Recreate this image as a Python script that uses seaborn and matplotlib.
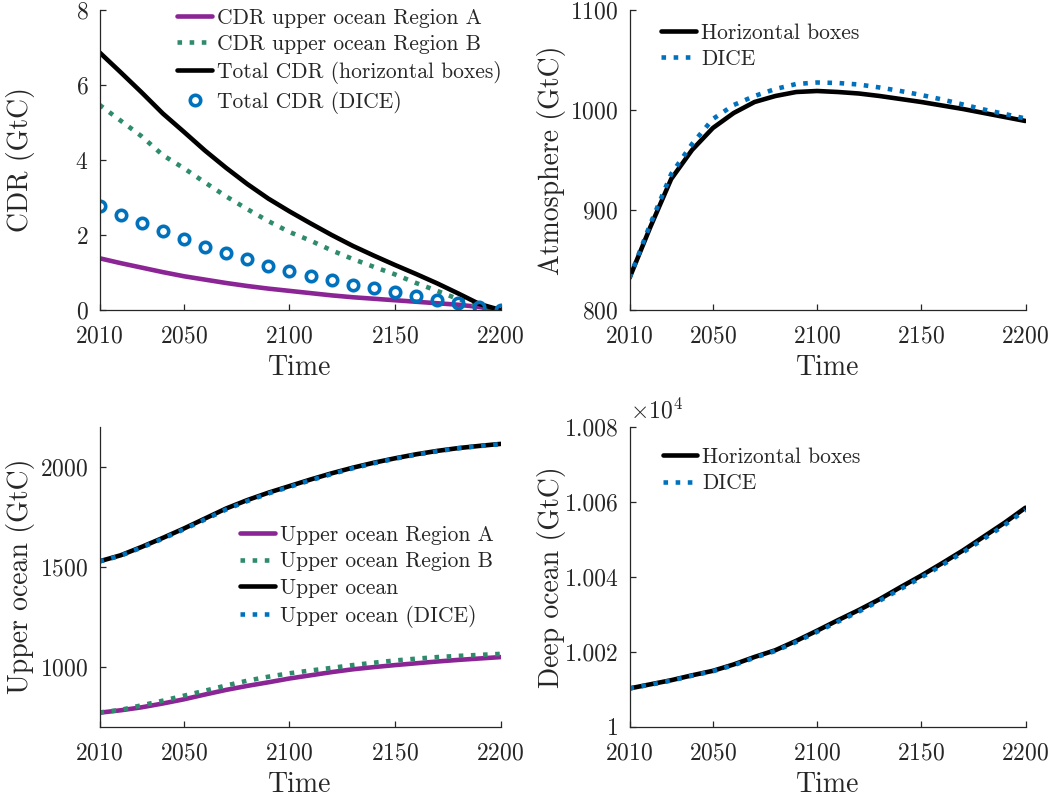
import numpy as np
import pandas as pd
import matplotlib
matplotlib.use("Agg")
import matplotlib.pyplot as plt
import seaborn as sns

# ---------------- data ----------------
years = [2010, 2020, 2030, 2040, 2050, 2060, 2070, 2080, 2090, 2100,
         2110, 2120, 2130, 2140, 2150, 2160, 2170, 2180, 2190, 2200]

# carbon dioxide removal (GtC)
cdr_region_a = [1.38, 1.25, 1.13, 1.01, 0.90, 0.81, 0.72, 0.64, 0.57, 0.51,
                0.45, 0.39, 0.34, 0.30, 0.26, 0.22, 0.18, 0.14, 0.08, 0.00]
cdr_region_b = [5.47, 5.05, 4.63, 4.13, 3.78, 3.40, 3.03, 2.69, 2.37, 2.08,
                1.85, 1.59, 1.36, 1.15, 0.95, 0.72, 0.51, 0.29, 0.10, 0.00]
cdr_total = [6.87, 6.34, 5.80, 5.24, 4.75, 4.25, 3.79, 3.36, 2.97, 2.63,
             2.31, 2.00, 1.71, 1.45, 1.20, 0.96, 0.71, 0.44, 0.16, 0.00]
cdr_dice = [2.77, 2.53, 2.31, 2.11, 1.89, 1.69, 1.52, 1.35, 1.18, 1.05,
            0.91, 0.80, 0.68, 0.58, 0.47, 0.37, 0.28, 0.18, 0.09, 0.00]

# atmospheric carbon (GtC)
atm_boxes = [832, 883, 931, 960, 982, 997, 1008, 1014, 1018, 1019,
             1018, 1016.5, 1014, 1011, 1008, 1004.5, 1001, 997, 993, 989]
atm_dice = [832, 886, 936, 966, 991, 1005, 1014, 1021, 1026, 1027.5,
            1027, 1025.5, 1022.5, 1019, 1015, 1010.5, 1005.5, 1000.5, 996, 991.5]

# upper ocean carbon (GtC)
upper_region_a = [770, 782, 797, 816, 837, 861, 884, 904, 922, 941,
                  957, 973, 987, 998, 1008, 1017, 1026, 1034, 1041, 1048]
upper_region_b = [771, 784, 807, 830, 855, 880, 906, 930, 950, 967,
                  981, 994, 1008, 1020, 1031, 1040, 1048, 1054, 1059, 1064]
upper_total = [1527, 1557, 1599, 1644, 1691, 1741, 1791, 1833, 1870, 1903,
               1936, 1967, 1995, 2020, 2042, 2062, 2079, 2093, 2104, 2114]
upper_dice = [1526, 1555, 1596, 1640, 1687, 1736, 1786, 1828, 1866, 1899,
              1932, 1963, 1992, 2017, 2040, 2060, 2077, 2092, 2103, 2113]

# deep ocean carbon (GtC)
deep_boxes = [10010.2, 10011.3, 10012.4, 10013.7, 10014.9, 10016.6, 10018.6,
              10020.4, 10022.9, 10025.6, 10028.4, 10031.1, 10034.0, 10037.2,
              10040.3, 10043.6, 10047.0, 10050.7, 10054.4, 10058.4]
deep_dice = [10010.2, 10011.2, 10012.3, 10013.6, 10014.8, 10016.4, 10018.4,
             10020.2, 10022.6, 10025.3, 10028.0, 10030.7, 10033.6, 10036.7,
             10039.8, 10043.1, 10046.5, 10050.1, 10053.8, 10057.8]

year_ticks = [2010, 2050, 2100, 2150, 2200]
deep_ticks = [10000, 10020, 10040, 10060, 10080]
deep_tick_labels = ["1", "1.002", "1.004", "1.006", "1.008"]

# ---------------- style ----------------
sns.set_theme(style="ticks")
plt.rcParams["font.family"] = ["cmr10"]
plt.rcParams["mathtext.fontset"] = "cm"
plt.rcParams["axes.formatter.use_mathtext"] = True
plt.rcParams["axes.unicode_minus"] = False

INK = "#262626"
PURPLE = "#8B2595"
GREEN = "#2E8B6B"
BLUE = "#0072BD"
LW = 3.3
TICK_FS = 17
LABEL_FS = 20
LEGEND_FS = 15.5

fig = plt.figure(figsize=(10.59, 8.01), dpi=100)
W, H = 1059, 801


def make_axes(left, top, right, bottom):
    return fig.add_axes([left / W, 1 - bottom / H, (right - left) / W, (bottom - top) / H])


ax_cdr = make_axes(99.5, 10, 500.5, 310)
ax_atm = make_axes(629.5, 10, 1025.5, 310)
ax_up = make_axes(99.5, 426.7, 500.5, 726.7)
ax_deep = make_axes(629.5, 426.7, 1025.5, 726.7)


def style_axes(ax, ylabel):
    sns.despine(ax=ax)
    for side in ("left", "bottom"):
        ax.spines[side].set_color(INK)
        ax.spines[side].set_linewidth(0.9)
    ax.tick_params(direction="in", length=4, width=0.9, colors=INK,
                   labelsize=TICK_FS)
    ax.tick_params(axis="x", pad=11)
    ax.tick_params(axis="y", pad=8)
    ax.set_xlim(2010, 2200)
    ax.set_xticks(year_ticks)
    ax.set_xlabel("Time", fontsize=LABEL_FS, color=INK)
    ax.set_ylabel(ylabel, fontsize=LABEL_FS, color=INK)
    ax.xaxis.set_label_coords(0.5, -0.15)
    ax.yaxis.set_label_coords(-0.16, 0.5)


def line(ax, y, color, label, ls="-"):
    sns.lineplot(x=years, y=y, ax=ax, color=color, linewidth=LW,
                 linestyle=ls, label=label, sort=False)


def legend(ax, loc, anchor):
    ax.legend(loc=loc, bbox_to_anchor=anchor, frameon=False,
              fontsize=LEGEND_FS, handlelength=1.6, handletextpad=0.25,
              labelspacing=0.32, borderaxespad=0.0)


# CDR panel
line(ax_cdr, cdr_region_a, PURPLE, "CDR upper ocean Region A")
line(ax_cdr, cdr_region_b, GREEN, "CDR upper ocean Region B", ":")
line(ax_cdr, cdr_total, "black", "Total CDR (horizontal boxes)")
sns.lineplot(x=years, y=cdr_dice, ax=ax_cdr, linestyle="none", marker="o",
             markersize=7.5, markerfacecolor="none", markeredgecolor=BLUE,
             markeredgewidth=2.6, label="Total CDR (DICE)", sort=False)
ax_cdr.set_ylim(0, 8)
ax_cdr.set_yticks([0, 2, 4, 6, 8])
style_axes(ax_cdr, "CDR (GtC)")
legend(ax_cdr, "upper right", (1.025, 1.035))

# Atmosphere panel
line(ax_atm, atm_boxes, "black", "Horizontal boxes")
line(ax_atm, atm_dice, BLUE, "DICE", ":")
ax_atm.set_ylim(800, 1100)
ax_atm.set_yticks([800, 900, 1000, 1100])
style_axes(ax_atm, "Atmosphere (GtC)")
legend(ax_atm, "upper left", (0.058, 0.985))

# Upper ocean panel
line(ax_up, upper_region_a, PURPLE, "Upper ocean Region A")
line(ax_up, upper_region_b, GREEN, "Upper ocean Region B", ":")
line(ax_up, upper_total, "black", "Upper ocean")
line(ax_up, upper_dice, BLUE, "Upper ocean (DICE)", ":")
ax_up.set_ylim(700, 2200)
ax_up.set_yticks([1000, 1500, 2000])
style_axes(ax_up, "Upper ocean (GtC)")
legend(ax_up, "upper left", (0.33, 0.70))

# Deep ocean panel
line(ax_deep, deep_boxes, "black", "Horizontal boxes")
line(ax_deep, deep_dice, BLUE, "DICE", ":")
ax_deep.set_ylim(10000, 10080)
ax_deep.set_yticks(deep_ticks)
ax_deep.set_yticklabels(deep_tick_labels)
style_axes(ax_deep, "Deep ocean (GtC)")
ax_deep.text(0.0, 1.012, r"$\times10^{4}$", transform=ax_deep.transAxes,
             ha="left", va="bottom", fontsize=17, color=INK)
legend(ax_deep, "upper left", (0.062, 0.96))

fig.savefig("out.png", dpi=100)
